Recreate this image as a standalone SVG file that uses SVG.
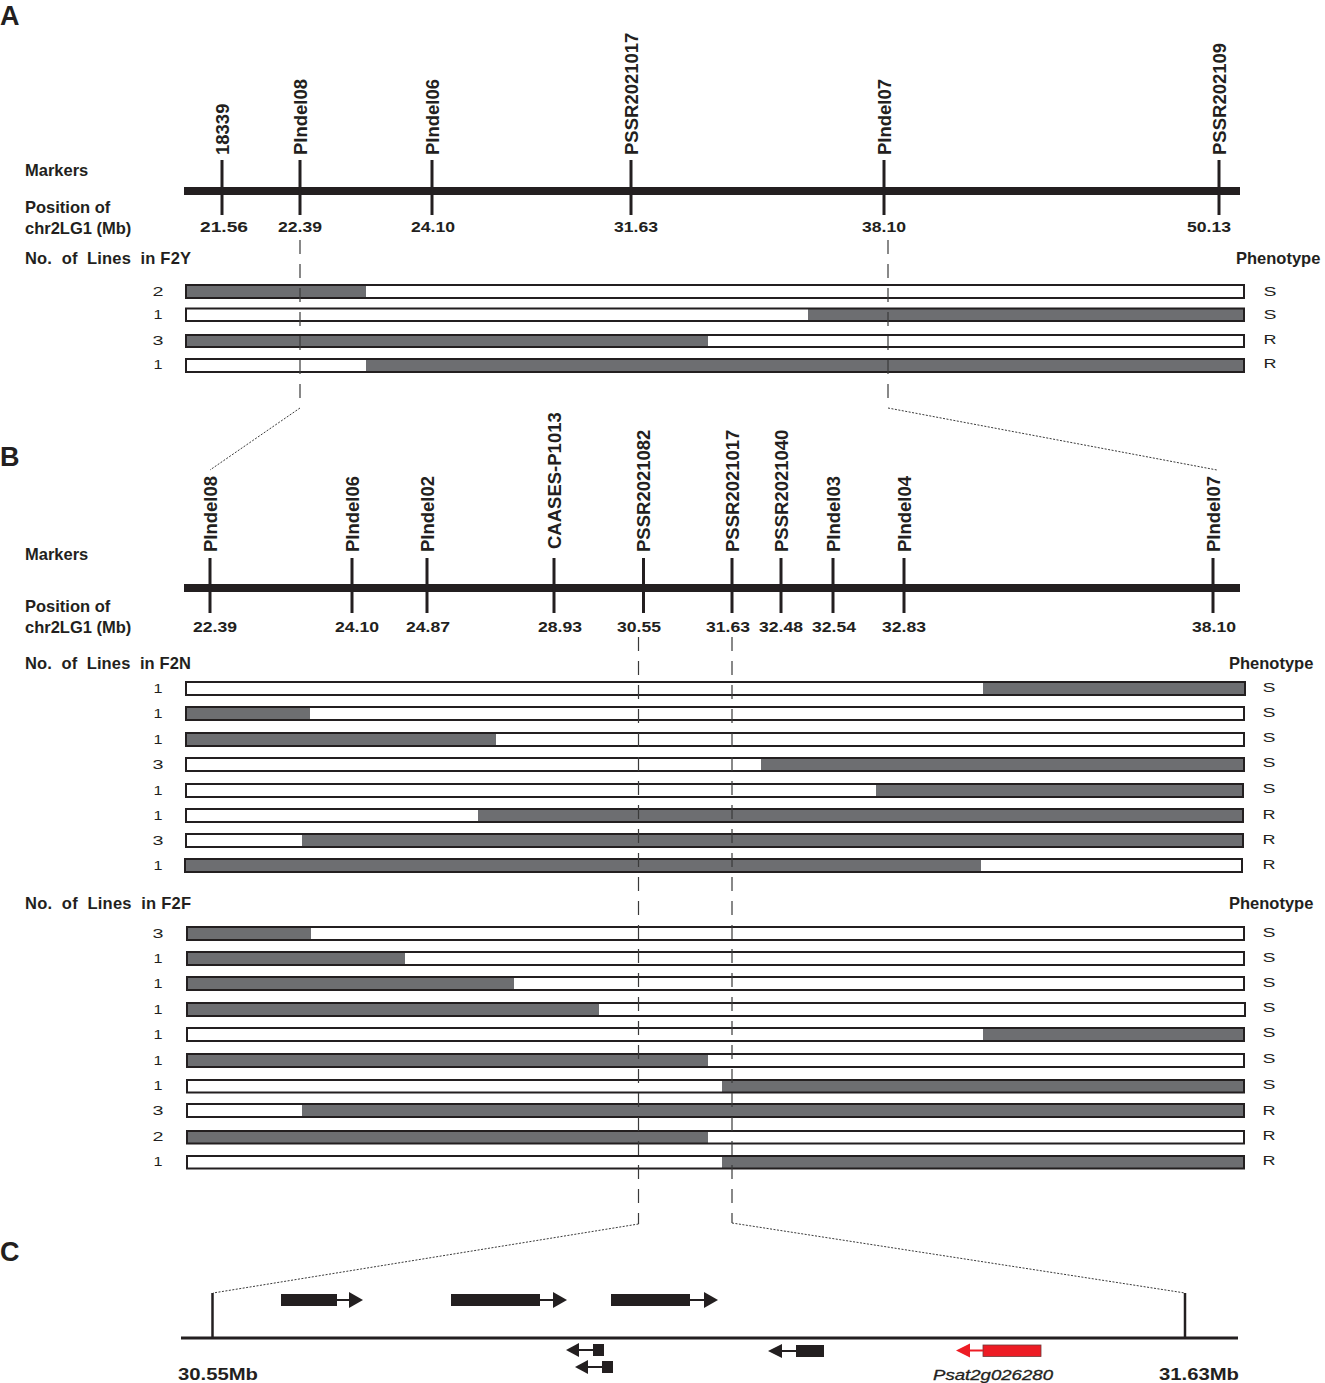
<svg xmlns="http://www.w3.org/2000/svg" width="1325" height="1383" viewBox="0 0 1325 1383">
<style>
text{font-family:'Liberation Sans',Arial,sans-serif;fill:#231f20}
.pl{font-size:27px;font-weight:bold}
.lbl{font-size:18.5px;font-weight:bold}
.pos{font-size:14px;font-weight:bold;text-anchor:middle}
.side{font-size:16.5px;font-weight:bold}
.nol{font-size:16.5px;font-weight:bold;white-space:pre}
.cnt{font-size:12px;text-anchor:middle}
.tick{stroke:#231f20;stroke-width:3}
.chrom{fill:#231f20}
.bar{fill:none;stroke:#231f20;stroke-width:2}
.g{fill:#6d6e71}
.w{fill:#fff}
.dash{stroke:#3a3a3a;stroke-width:1.2;stroke-dasharray:14 10;fill:none}
.dot{stroke:#3a3a3a;stroke-width:1;stroke-dasharray:2 1.5;fill:none}
.gene{fill:#231f20}
.gl{stroke:#231f20;stroke-width:2}
</style>
<rect width="1325" height="1383" fill="#fff"/>

<!-- Panel A -->
<g id="panelA-labels">
<text class="pl" x="0" y="25">A</text>
<text class="side" x="25" y="176">Markers</text>
<text class="side" x="25" y="213">Position of</text>
<text class="side" x="25" y="234">chr2LG1 (Mb)</text>
<text class="nol" x="25" y="264" textLength="166" lengthAdjust="spacing">No.  of  Lines  in F2Y</text>
<text class="side" x="1236" y="264">Phenotype</text>
</g>
<g id="A-chrom"><rect class="chrom" x="184" y="187" width="1056" height="8"/></g>
<g id="A-m-18339"><line class="tick" x1="222" y1="160" x2="222" y2="215"/><text class="lbl" transform="translate(228.5,155) rotate(-90)">18339</text><text class="pos" x="224" y="232" textLength="48" lengthAdjust="spacingAndGlyphs">21.56</text></g>
<g id="A-m-PIndel08"><line class="tick" x1="300" y1="160" x2="300" y2="215"/><text class="lbl" transform="translate(306.5,155) rotate(-90)">PIndel08</text><text class="pos" x="300" y="232" textLength="44" lengthAdjust="spacingAndGlyphs">22.39</text></g>
<g id="A-m-PIndel06"><line class="tick" x1="432" y1="160" x2="432" y2="215"/><text class="lbl" transform="translate(438.5,155) rotate(-90)">PIndel06</text><text class="pos" x="433" y="232" textLength="44" lengthAdjust="spacingAndGlyphs">24.10</text></g>
<g id="A-m-PSSR2021017"><line class="tick" x1="631" y1="160" x2="631" y2="215"/><text class="lbl" transform="translate(637.5,155) rotate(-90)">PSSR2021017</text><text class="pos" x="636" y="232" textLength="44" lengthAdjust="spacingAndGlyphs">31.63</text></g>
<g id="A-m-PIndel07"><line class="tick" x1="884" y1="160" x2="884" y2="215"/><text class="lbl" transform="translate(890.5,155) rotate(-90)">PIndel07</text><text class="pos" x="884" y="232" textLength="44" lengthAdjust="spacingAndGlyphs">38.10</text></g>
<g id="A-m-PSSR202109"><line class="tick" x1="1219" y1="160" x2="1219" y2="215"/><text class="lbl" transform="translate(1225.5,155) rotate(-90)">PSSR202109</text><text class="pos" x="1209" y="232" textLength="44" lengthAdjust="spacingAndGlyphs">50.13</text></g>

<g id="A-row1"><text class="cnt" x="158" y="295.5" textLength="11" lengthAdjust="spacingAndGlyphs">2</text><rect class="w" x="186" y="285" width="1058" height="13"/><rect class="g" x="186" y="285" width="180" height="13"/><rect class="bar" x="186" y="285" width="1058" height="13"/><text class="cnt" x="1270" y="295.5" textLength="13" lengthAdjust="spacingAndGlyphs">S</text></g>
<g id="A-row2"><text class="cnt" x="158" y="319" textLength="9" lengthAdjust="spacingAndGlyphs">1</text><rect class="w" x="186" y="308.5" width="1058" height="12.5"/><rect class="g" x="808" y="308.5" width="436" height="12.5"/><rect class="bar" x="186" y="308.5" width="1058" height="12.5"/><text class="cnt" x="1270" y="319" textLength="13" lengthAdjust="spacingAndGlyphs">S</text></g>
<g id="A-row3"><text class="cnt" x="158" y="345" textLength="11" lengthAdjust="spacingAndGlyphs">3</text><rect class="w" x="186" y="335" width="1058" height="12"/><rect class="g" x="186" y="335" width="522" height="12"/><rect class="bar" x="186" y="335" width="1058" height="12"/><text class="cnt" x="1270" y="344" textLength="13" lengthAdjust="spacingAndGlyphs">R</text></g>
<g id="A-row4"><text class="cnt" x="158" y="369" textLength="9" lengthAdjust="spacingAndGlyphs">1</text><rect class="w" x="186" y="359" width="1058" height="13"/><rect class="g" x="366" y="359" width="878" height="13"/><rect class="bar" x="186" y="359" width="1058" height="13"/><text class="cnt" x="1270" y="368" textLength="13" lengthAdjust="spacingAndGlyphs">R</text></g>

<!-- Panel B -->
<g id="panelB-labels">
<text class="pl" x="0" y="466">B</text>
<text class="side" x="25" y="560">Markers</text>
<text class="side" x="25" y="612">Position of</text>
<text class="side" x="25" y="633">chr2LG1 (Mb)</text>
<text class="nol" x="25" y="669" textLength="166" lengthAdjust="spacing">No.  of  Lines  in F2N</text>
<text class="side" x="1229" y="669">Phenotype</text>
<text class="nol" x="25" y="909" textLength="166" lengthAdjust="spacing">No.  of  Lines  in F2F</text>
<text class="side" x="1229" y="909">Phenotype</text>
</g>
<g id="B-chrom"><rect class="chrom" x="184" y="584" width="1056" height="8"/></g>
<g id="B-m-PIndel08"><line class="tick" x1="210" y1="558" x2="210" y2="613"/><text class="lbl" transform="translate(216.5,552) rotate(-90)">PIndel08</text><text class="pos" x="215" y="632" textLength="44" lengthAdjust="spacingAndGlyphs">22.39</text></g>
<g id="B-m-PIndel06"><line class="tick" x1="352" y1="558" x2="352" y2="613"/><text class="lbl" transform="translate(358.5,552) rotate(-90)">PIndel06</text><text class="pos" x="357" y="632" textLength="44" lengthAdjust="spacingAndGlyphs">24.10</text></g>
<g id="B-m-PIndel02"><line class="tick" x1="427" y1="558" x2="427" y2="613"/><text class="lbl" transform="translate(433.5,552) rotate(-90)">PIndel02</text><text class="pos" x="428" y="632" textLength="44" lengthAdjust="spacingAndGlyphs">24.87</text></g>
<g id="B-m-CAASES-P1013"><line class="tick" x1="554" y1="558" x2="554" y2="613"/><text class="lbl" transform="translate(560.5,549) rotate(-90)">CAASES-P1013</text><text class="pos" x="560" y="632" textLength="44" lengthAdjust="spacingAndGlyphs">28.93</text></g>
<g id="B-m-PSSR2021082"><line class="tick" x1="643.5" y1="558" x2="643.5" y2="613"/><text class="lbl" transform="translate(650,552) rotate(-90)">PSSR2021082</text><text class="pos" x="639" y="632" textLength="44" lengthAdjust="spacingAndGlyphs">30.55</text></g>
<g id="B-m-PSSR2021017"><line class="tick" x1="732" y1="558" x2="732" y2="613"/><text class="lbl" transform="translate(738.5,552) rotate(-90)">PSSR2021017</text><text class="pos" x="728" y="632" textLength="44" lengthAdjust="spacingAndGlyphs">31.63</text></g>
<g id="B-m-PSSR2021040"><line class="tick" x1="781" y1="558" x2="781" y2="613"/><text class="lbl" transform="translate(787.5,552) rotate(-90)">PSSR2021040</text><text class="pos" x="781" y="632" textLength="44" lengthAdjust="spacingAndGlyphs">32.48</text></g>
<g id="B-m-PIndel03"><line class="tick" x1="833" y1="558" x2="833" y2="613"/><text class="lbl" transform="translate(839.5,552) rotate(-90)">PIndel03</text><text class="pos" x="834" y="632" textLength="44" lengthAdjust="spacingAndGlyphs">32.54</text></g>
<g id="B-m-PIndel04"><line class="tick" x1="904" y1="558" x2="904" y2="613"/><text class="lbl" transform="translate(910.5,552) rotate(-90)">PIndel04</text><text class="pos" x="904" y="632" textLength="44" lengthAdjust="spacingAndGlyphs">32.83</text></g>
<g id="B-m-PIndel07"><line class="tick" x1="1213" y1="558" x2="1213" y2="613"/><text class="lbl" transform="translate(1219.5,552) rotate(-90)">PIndel07</text><text class="pos" x="1214" y="632" textLength="44" lengthAdjust="spacingAndGlyphs">38.10</text></g>

<!-- F2N rows -->
<g id="F2N-row1"><text class="cnt" x="158" y="692.5" textLength="9" lengthAdjust="spacingAndGlyphs">1</text><rect class="w" x="186" y="682" width="1059" height="13"/><rect class="g" x="983" y="682" width="262" height="13"/><rect class="bar" x="186" y="682" width="1059" height="13"/><text class="cnt" x="1269" y="692" textLength="13" lengthAdjust="spacingAndGlyphs">S</text></g>
<g id="F2N-row2"><text class="cnt" x="158" y="717.5" textLength="9" lengthAdjust="spacingAndGlyphs">1</text><rect class="w" x="186" y="707" width="1058" height="13"/><rect class="g" x="186" y="707" width="124" height="13"/><rect class="bar" x="186" y="707" width="1058" height="13"/><text class="cnt" x="1269" y="717" textLength="13" lengthAdjust="spacingAndGlyphs">S</text></g>
<g id="F2N-row3"><text class="cnt" x="158" y="743.5" textLength="9" lengthAdjust="spacingAndGlyphs">1</text><rect class="w" x="186" y="733" width="1058" height="13"/><rect class="g" x="186" y="733" width="310" height="13"/><rect class="bar" x="186" y="733" width="1058" height="13"/><text class="cnt" x="1269" y="742" textLength="13" lengthAdjust="spacingAndGlyphs">S</text></g>
<g id="F2N-row4"><text class="cnt" x="158" y="768.5" textLength="11" lengthAdjust="spacingAndGlyphs">3</text><rect class="w" x="186" y="758" width="1058" height="13"/><rect class="g" x="761" y="758" width="483" height="13"/><rect class="bar" x="186" y="758" width="1058" height="13"/><text class="cnt" x="1269" y="767" textLength="13" lengthAdjust="spacingAndGlyphs">S</text></g>
<g id="F2N-row5"><text class="cnt" x="158" y="794.5" textLength="9" lengthAdjust="spacingAndGlyphs">1</text><rect class="w" x="186" y="784" width="1057" height="13"/><rect class="g" x="876" y="784" width="367" height="13"/><rect class="bar" x="186" y="784" width="1057" height="13"/><text class="cnt" x="1269" y="793" textLength="13" lengthAdjust="spacingAndGlyphs">S</text></g>
<g id="F2N-row6"><text class="cnt" x="158" y="819.5" textLength="9" lengthAdjust="spacingAndGlyphs">1</text><rect class="w" x="186" y="809" width="1057" height="13"/><rect class="g" x="478" y="809" width="765" height="13"/><rect class="bar" x="186" y="809" width="1057" height="13"/><text class="cnt" x="1269" y="819" textLength="13" lengthAdjust="spacingAndGlyphs">R</text></g>
<g id="F2N-row7"><text class="cnt" x="158" y="844.5" textLength="11" lengthAdjust="spacingAndGlyphs">3</text><rect class="w" x="186" y="834" width="1057" height="13"/><rect class="g" x="302" y="834" width="941" height="13"/><rect class="bar" x="186" y="834" width="1057" height="13"/><text class="cnt" x="1269" y="844" textLength="13" lengthAdjust="spacingAndGlyphs">R</text></g>
<g id="F2N-row8"><text class="cnt" x="158" y="869.5" textLength="9" lengthAdjust="spacingAndGlyphs">1</text><rect class="w" x="185" y="859" width="1057" height="13"/><rect class="g" x="185" y="859" width="796" height="13"/><rect class="bar" x="185" y="859" width="1057" height="13"/><text class="cnt" x="1269" y="869" textLength="13" lengthAdjust="spacingAndGlyphs">R</text></g>

<!-- F2F rows -->
<g id="F2F-row1"><text class="cnt" x="158" y="937.5" textLength="11" lengthAdjust="spacingAndGlyphs">3</text><rect class="w" x="187" y="927" width="1057" height="13"/><rect class="g" x="187" y="927" width="124" height="13"/><rect class="bar" x="187" y="927" width="1057" height="13"/><text class="cnt" x="1269" y="937" textLength="13" lengthAdjust="spacingAndGlyphs">S</text></g>
<g id="F2F-row2"><text class="cnt" x="158" y="962.5" textLength="9" lengthAdjust="spacingAndGlyphs">1</text><rect class="w" x="187" y="952" width="1057" height="13"/><rect class="g" x="187" y="952" width="218" height="13"/><rect class="bar" x="187" y="952" width="1057" height="13"/><text class="cnt" x="1269" y="962" textLength="13" lengthAdjust="spacingAndGlyphs">S</text></g>
<g id="F2F-row3"><text class="cnt" x="158" y="987.5" textLength="9" lengthAdjust="spacingAndGlyphs">1</text><rect class="w" x="187" y="977" width="1057" height="13"/><rect class="g" x="187" y="977" width="327" height="13"/><rect class="bar" x="187" y="977" width="1057" height="13"/><text class="cnt" x="1269" y="987" textLength="13" lengthAdjust="spacingAndGlyphs">S</text></g>
<g id="F2F-row4"><text class="cnt" x="158" y="1013.5" textLength="9" lengthAdjust="spacingAndGlyphs">1</text><rect class="w" x="187" y="1003" width="1058" height="13"/><rect class="g" x="187" y="1003" width="412" height="13"/><rect class="bar" x="187" y="1003" width="1058" height="13"/><text class="cnt" x="1269" y="1012" textLength="13" lengthAdjust="spacingAndGlyphs">S</text></g>
<g id="F2F-row5"><text class="cnt" x="158" y="1038.5" textLength="9" lengthAdjust="spacingAndGlyphs">1</text><rect class="w" x="187" y="1028" width="1057" height="13"/><rect class="g" x="983" y="1028" width="261" height="13"/><rect class="bar" x="187" y="1028" width="1057" height="13"/><text class="cnt" x="1269" y="1037" textLength="13" lengthAdjust="spacingAndGlyphs">S</text></g>
<g id="F2F-row6"><text class="cnt" x="158" y="1064.5" textLength="9" lengthAdjust="spacingAndGlyphs">1</text><rect class="w" x="187" y="1054" width="1057" height="13"/><rect class="g" x="187" y="1054" width="521" height="13"/><rect class="bar" x="187" y="1054" width="1057" height="13"/><text class="cnt" x="1269" y="1063" textLength="13" lengthAdjust="spacingAndGlyphs">S</text></g>
<g id="F2F-row7"><text class="cnt" x="158" y="1089.5" textLength="9" lengthAdjust="spacingAndGlyphs">1</text><rect class="w" x="187" y="1080" width="1057" height="12.5"/><rect class="g" x="722" y="1080" width="522" height="12.5"/><rect class="bar" x="187" y="1080" width="1057" height="12.5"/><text class="cnt" x="1269" y="1089" textLength="13" lengthAdjust="spacingAndGlyphs">S</text></g>
<g id="F2F-row8"><text class="cnt" x="158" y="1114.5" textLength="11" lengthAdjust="spacingAndGlyphs">3</text><rect class="w" x="187" y="1104" width="1057" height="13"/><rect class="g" x="302" y="1104" width="942" height="13"/><rect class="bar" x="187" y="1104" width="1057" height="13"/><text class="cnt" x="1269" y="1115" textLength="13" lengthAdjust="spacingAndGlyphs">R</text></g>
<g id="F2F-row9"><text class="cnt" x="158" y="1141" textLength="11" lengthAdjust="spacingAndGlyphs">2</text><rect class="w" x="187" y="1131" width="1057" height="12.5"/><rect class="g" x="187" y="1131" width="521" height="12.5"/><rect class="bar" x="187" y="1131" width="1057" height="12.5"/><text class="cnt" x="1269" y="1140" textLength="13" lengthAdjust="spacingAndGlyphs">R</text></g>
<g id="F2F-row10"><text class="cnt" x="158" y="1166" textLength="9" lengthAdjust="spacingAndGlyphs">1</text><rect class="w" x="187" y="1156" width="1057" height="12.5"/><rect class="g" x="722" y="1156" width="522" height="12.5"/><rect class="bar" x="187" y="1156" width="1057" height="12.5"/><text class="cnt" x="1269" y="1165" textLength="13" lengthAdjust="spacingAndGlyphs">R</text></g>

<!-- Panel C -->
<g id="panelC-labels">
<text class="pl" x="0" y="1261">C</text>
</g>
<g id="C-axis">
<line x1="181" y1="1338" x2="1238" y2="1338" stroke="#231f20" stroke-width="3"/>
<line x1="212.5" y1="1293" x2="212.5" y2="1338" stroke="#231f20" stroke-width="2.5"/>
<line x1="1185" y1="1293" x2="1185" y2="1338" stroke="#231f20" stroke-width="2.5"/>
<text x="178" y="1380" class="side" textLength="80" lengthAdjust="spacingAndGlyphs">30.55Mb</text>
<text x="1159" y="1380" class="side" textLength="80" lengthAdjust="spacingAndGlyphs">31.63Mb</text>
</g>
<g id="gene-f1"><rect class="gene" x="281" y="1294" width="56" height="12"/><line class="gl" x1="337" y1="1300" x2="350" y2="1300"/><polygon class="gene" points="349,1292 363,1300 349,1308"/></g>
<g id="gene-f2"><rect class="gene" x="451" y="1294" width="89" height="12"/><line class="gl" x1="540" y1="1300" x2="554" y2="1300"/><polygon class="gene" points="553,1292 567,1300 553,1308"/></g>
<g id="gene-f3"><rect class="gene" x="611" y="1294" width="79" height="12"/><line class="gl" x1="690" y1="1300" x2="705" y2="1300"/><polygon class="gene" points="704,1292 718,1300 704,1308"/></g>
<g id="gene-r1"><rect class="gene" x="593" y="1344" width="11" height="12"/><line class="gl" x1="578" y1="1350" x2="593" y2="1350"/><polygon class="gene" points="579,1343 566,1350 579,1357"/></g>
<g id="gene-r2"><rect class="gene" x="602" y="1361" width="11" height="12"/><line class="gl" x1="587" y1="1367" x2="602" y2="1367"/><polygon class="gene" points="588,1360 575,1367 588,1374"/></g>
<g id="gene-r3"><rect class="gene" x="796" y="1345" width="28" height="12"/><line class="gl" x1="781" y1="1351" x2="796" y2="1351"/><polygon class="gene" points="782,1344 768,1351 782,1358"/></g>
<g id="gene-Psat2g026280"><rect x="983" y="1345" width="58" height="11.5" fill="#ed1c24" stroke="#6d3b3b" stroke-width="0.8"/><line x1="969" y1="1350.5" x2="983" y2="1350.5" stroke="#ed1c24" stroke-width="2"/><polygon fill="#ed1c24" points="970,1343.5 956,1350.5 970,1357.5"/><text x="933" y="1380" font-size="14.5" font-style="italic" stroke="#231f20" stroke-width="0.3" textLength="120" lengthAdjust="spacingAndGlyphs">Psat2g026280</text></g>

<!-- Connectors -->
<g id="connectors">
<line class="dash" x1="300" y1="240" x2="300" y2="408"/>
<line class="dot" x1="300" y1="408" x2="210" y2="470"/>
<line class="dash" x1="888" y1="240" x2="888" y2="408"/>
<line class="dot" x1="888" y1="408" x2="1217" y2="470"/>
<line class="dash" x1="638.5" y1="637" x2="638.5" y2="1224"/>
<line class="dot" x1="638.5" y1="1224" x2="213" y2="1293"/>
<line class="dash" x1="732" y1="637" x2="732" y2="1223"/>
<line class="dot" x1="732" y1="1223" x2="1185" y2="1293"/>
</g>
</svg>
